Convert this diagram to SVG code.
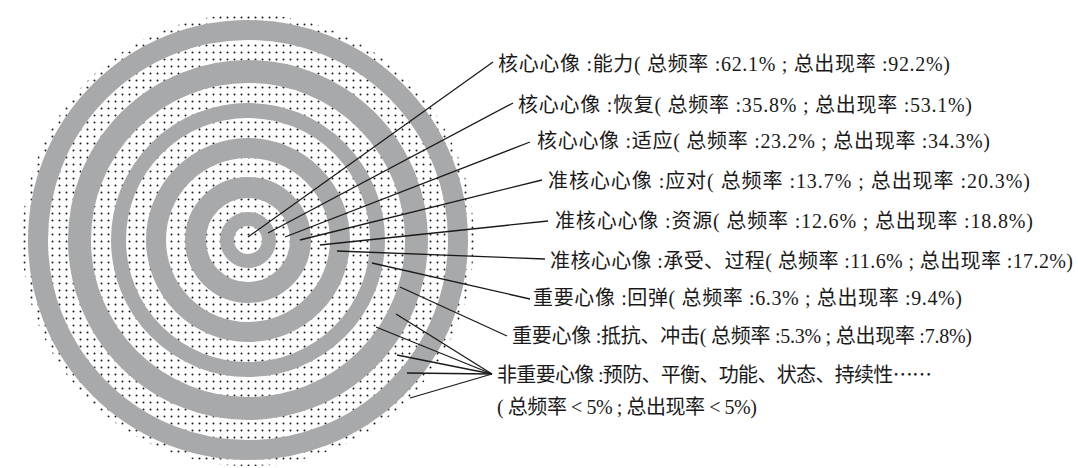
<svg xmlns="http://www.w3.org/2000/svg" width="1078" height="468" viewBox="0 0 1078 468">
<defs>
<pattern id="dots" width="7" height="7" patternUnits="userSpaceOnUse">
<rect width="7" height="7" fill="#ffffff"/>
<circle cx="3.5" cy="3.5" r="1" fill="#1a1a1a"/>
</pattern>
</defs>
<style>
.ring{fill:none;stroke:#a8a9ab}
.lbl{font-family:"Liberation Serif","Noto Sans CJK SC",serif;font-size:20px;fill:#1a1a1a}
.cjk{font-family:"Noto Sans CJK SC",sans-serif}
.ln{stroke:#1a1a1a;stroke-width:1.3;fill:none}
</style>
<rect width="1078" height="468" fill="#ffffff"/>
<g id="target">
<circle cx="248" cy="240" r="226" fill="url(#dots)"/>
<circle class="ring" cx="248" cy="240" r="210" stroke-width="20"/>
<circle class="ring" cx="248" cy="240" r="168.5" stroke-width="23"/>
<circle class="ring" cx="248" cy="240" r="129.5" stroke-width="15"/>
<circle class="ring" cx="248" cy="240" r="92" stroke-width="20"/>
<circle class="ring" cx="248" cy="240" r="52.5" stroke-width="21"/>
<circle class="ring" cx="248" cy="240" r="21" stroke-width="14"/>
</g>
<g id="connectors">
<line class="ln" x1="248" y1="237" x2="493" y2="62"/>
<line class="ln" x1="268" y1="233" x2="513" y2="103"/>
<line class="ln" x1="285" y1="237" x2="530" y2="142"/>
<line class="ln" x1="300" y1="240" x2="542" y2="180"/>
<line class="ln" x1="320" y1="245" x2="548" y2="221"/>
<line class="ln" x1="337" y1="251" x2="545" y2="259"/>
<line class="ln" x1="372" y1="263" x2="530" y2="299"/>
<line class="ln" x1="400" y1="287" x2="507" y2="336"/>
<line class="ln" x1="396" y1="314" x2="492" y2="374"/>
<line class="ln" x1="376" y1="327" x2="492" y2="374"/>
<line class="ln" x1="397" y1="355" x2="492" y2="374"/>
<line class="ln" x1="407" y1="373" x2="492" y2="374"/>
<line class="ln" x1="410" y1="398" x2="492" y2="374"/>
</g>
<g id="label1"><text class="lbl" x="498" y="70.5" textLength="452">核心心像 :能力( 总频率 :62.1% ; 总出现率 :92.2%)</text></g>
<g id="label2"><text class="lbl" x="518" y="111.5" textLength="454">核心心像 :恢复( 总频率 :35.8% ; 总出现率 :53.1%)</text></g>
<g id="label3"><text class="lbl" x="537" y="147.5" textLength="453">核心心像 :适应( 总频率 :23.2% ; 总出现率 :34.3%)</text></g>
<g id="label4"><text class="lbl" x="548" y="187.5" textLength="482">准核心心像 :应对( 总频率 :13.7% ; 总出现率 :20.3%)</text></g>
<g id="label5"><text class="lbl" x="555" y="227.5" textLength="478">准核心心像 :资源( 总频率 :12.6% ; 总出现率 :18.8%)</text></g>
<g id="label6"><text class="lbl" x="550" y="267.5" textLength="523">准核心心像 :承受、过程( 总频率 :11.6% ; 总出现率 :17.2%)</text></g>
<g id="label7"><text class="lbl" x="533" y="304.5" textLength="429">重要心像 :回弹( 总频率 :6.3% ; 总出现率 :9.4%)</text></g>
<g id="label8"><text class="lbl" x="512" y="342.5" textLength="460">重要心像 :抵抗、冲击( 总频率 :5.3% ; 总出现率 :7.8%)</text></g>
<g id="label9"><text class="lbl" x="497" y="381.5" textLength="435">非重要心像 :预防、平衡、功能、状态、持续性<tspan class="cjk">……</tspan></text>
<text class="lbl" x="497" y="413.5" textLength="260">( 总频率 &lt; 5% ; 总出现率 &lt; 5%)</text></g>
</svg>
